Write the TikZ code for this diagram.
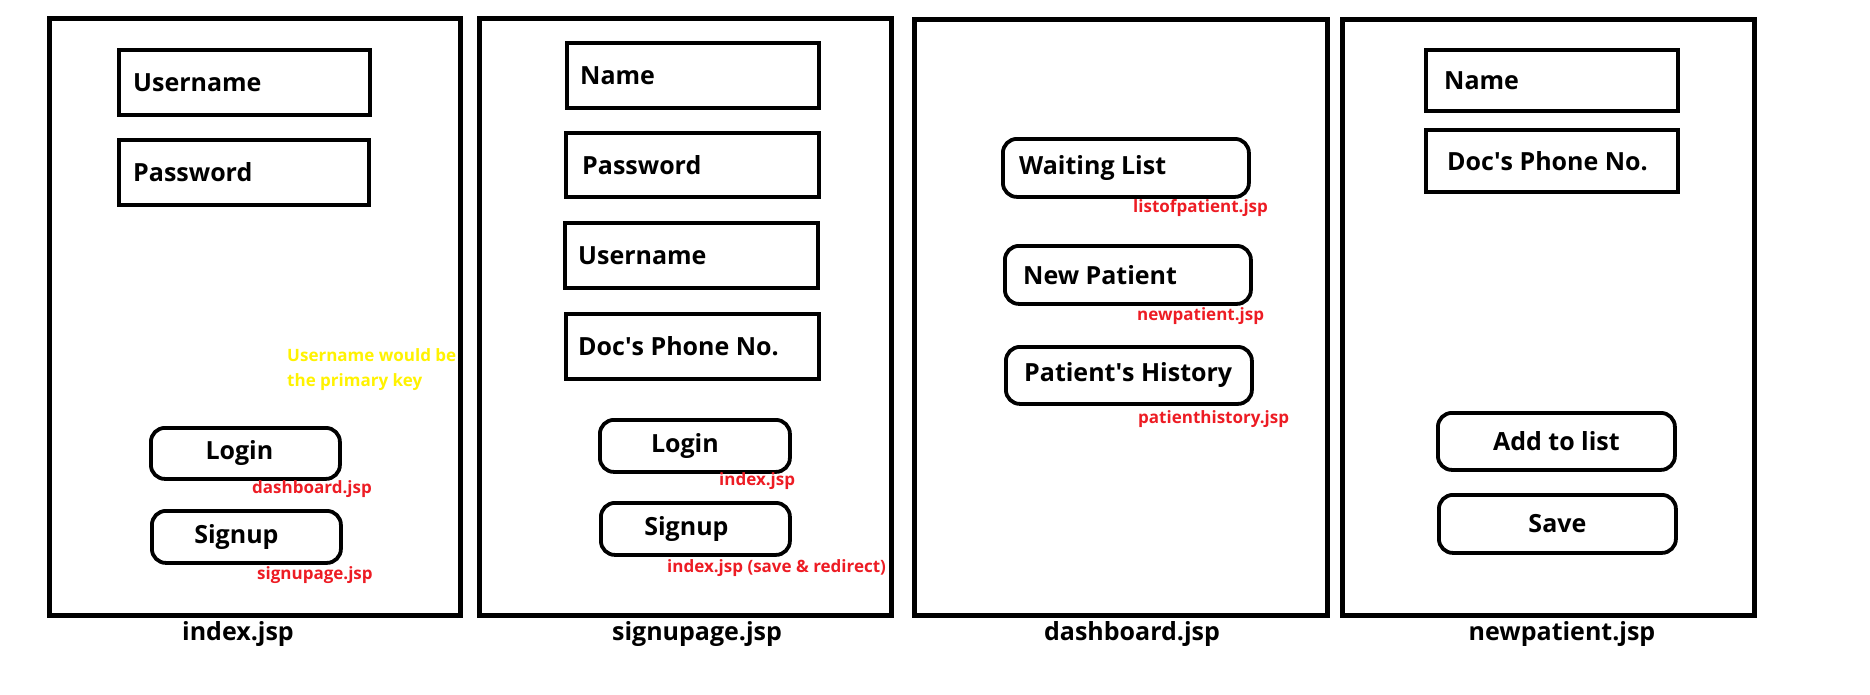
\documentclass[tikz,border=0pt]{standalone}
\usepackage{fontspec}
\setmainfont{Open Sans}
\begin{document}
\begin{tikzpicture}[x=1pt,y=-1pt,
  frame/.style={draw=black,line width=4.5pt,anchor=north west,inner sep=0pt},
  field/.style={draw=black,line width=4pt,anchor=north west,inner sep=0pt},
  btn/.style={draw=black,line width=3.8pt,rounded corners=14pt,anchor=north west,inner sep=0pt},
  ftext/.style={font=\bfseries\fontsize{25}{28}\selectfont,anchor=west,inner sep=0pt},
  btext/.style={font=\bfseries\fontsize{25}{28}\selectfont,inner sep=0pt},
  link/.style={font=\bfseries\fontsize{17}{19}\selectfont,text=linkred,anchor=west,inner sep=0pt},
  note/.style={font=\bfseries\fontsize{17}{25}\selectfont,text=noteyellow,anchor=north west,align=left,inner sep=0pt},
  ptitle/.style={font=\bfseries\fontsize{25}{28}\selectfont,inner sep=0pt}]
\definecolor{linkred}{RGB}{237,28,36}
\definecolor{noteyellow}{RGB}{255,242,0}
\useasboundingbox (0,0) rectangle (1870,694);

% ---------- index.jsp ----------
\node[frame,minimum width=411pt,minimum height=597pt] (f1) at (47,16) {};
\node[field,minimum width=251pt,minimum height=65pt] (f1u) at (117,48) {};
\node[ftext] at ([xshift=16pt]f1u.west) {Username};
\node[field,minimum width=250pt,minimum height=65pt] (f1p) at (117,138) {};
\node[ftext] at ([xshift=16pt]f1p.west) {Password};
\node[note] (f1n) at (287,348) {Username would be\\the primary key};
\node[btn,minimum width=189pt,minimum height=51pt] (f1l) at (149,426) {};
\node[btext] at ([xshift=-6pt]f1l.center) {Login};
\node[link] (f1ll) at (252,489) {dashboard.jsp};
\node[btn,minimum width=189pt,minimum height=52pt] (f1s) at (150,509) {};
\node[btext] at ([xshift=-10pt]f1s.center) {Signup};
\node[link] (f1sl) at (257,575) {signupage.jsp};
\node[ptitle] (t1) at (238,634) {index.jsp};

% ---------- signupage.jsp ----------
\node[frame,minimum width=412pt,minimum height=597pt] (f2) at (477,16) {};
\node[field,minimum width=252pt,minimum height=65pt] (f2n) at (565,41) {};
\node[ftext] at ([xshift=15pt]f2n.west) {Name};
\node[field,minimum width=253pt,minimum height=64pt] (f2p) at (564,131) {};
\node[ftext] at ([xshift=18pt]f2p.west) {Password};
\node[field,minimum width=253pt,minimum height=65pt] (f2u) at (563,221) {};
\node[ftext] at ([xshift=15pt]f2u.west) {Username};
\node[field,minimum width=253pt,minimum height=65pt] (f2d) at (564,312) {};
\node[ftext] at ([xshift=14pt]f2d.west) {Doc\textquotesingle s Phone No.};
\node[btn,minimum width=190pt,minimum height=52pt] (f2l) at (598,418) {};
\node[btext] at ([xshift=-10pt]f2l.center) {Login};
\node[link] (f2ll) at (719,481) {index.jsp};
\node[btn,minimum width=189pt,minimum height=52pt] (f2s) at (599,501) {};
\node[btext] at ([xshift=-9pt]f2s.center) {Signup};
\node[link] (f2sl) at (667,568) {index.jsp (save \& redirect)};
\node[ptitle] (t2) at (697,634) {signupage.jsp};

% ---------- dashboard.jsp ----------
\node[frame,minimum width=413pt,minimum height=596pt] (f3) at (912,17) {};
\node[btn,minimum width=246pt,minimum height=58pt] (f3w) at (1001,137) {};
\node[ftext] at ([xshift=18pt]f3w.west) {Waiting List};
\node[link] (f3wl) at (1133,208) {listofpatient.jsp};
\node[btn,minimum width=246pt,minimum height=58pt] (f3n) at (1003,244) {};
\node[ftext] at ([xshift=20pt]f3n.west) {New Patient};
\node[link] (f3nl) at (1137,316) {newpatient.jsp};
\node[btn,minimum width=246pt,minimum height=57pt] (f3h) at (1004,345) {};
\node[ftext] at ([xshift=20pt]f3h.west) {Patient\textquotesingle s History};
\node[link] (f3hl) at (1138,419) {patienthistory.jsp};
\node[ptitle] (t3) at (1132,634) {dashboard.jsp};

% ---------- newpatient.jsp ----------
\node[frame,minimum width=412pt,minimum height=596pt] (f4) at (1340,17) {};
\node[field,minimum width=252pt,minimum height=61pt] (f4n) at (1424,48) {};
\node[ftext] at ([xshift=20pt]f4n.west) {Name};
\node[field,minimum width=252pt,minimum height=62pt] (f4d) at (1424,128) {};
\node[ftext] at ([xshift=23pt]f4d.west) {Doc\textquotesingle s Phone No.};
\node[btn,minimum width=237pt,minimum height=57pt] (f4a) at (1436,411) {};
\node[btext] at (f4a.center) {Add to list};
\node[btn,minimum width=237pt,minimum height=58pt] (f4s) at (1437,493) {};
\node[btext] at (f4s.center) {Save};
\node[ptitle] (t4) at (1562,634) {newpatient.jsp};
\end{tikzpicture}
\end{document}
